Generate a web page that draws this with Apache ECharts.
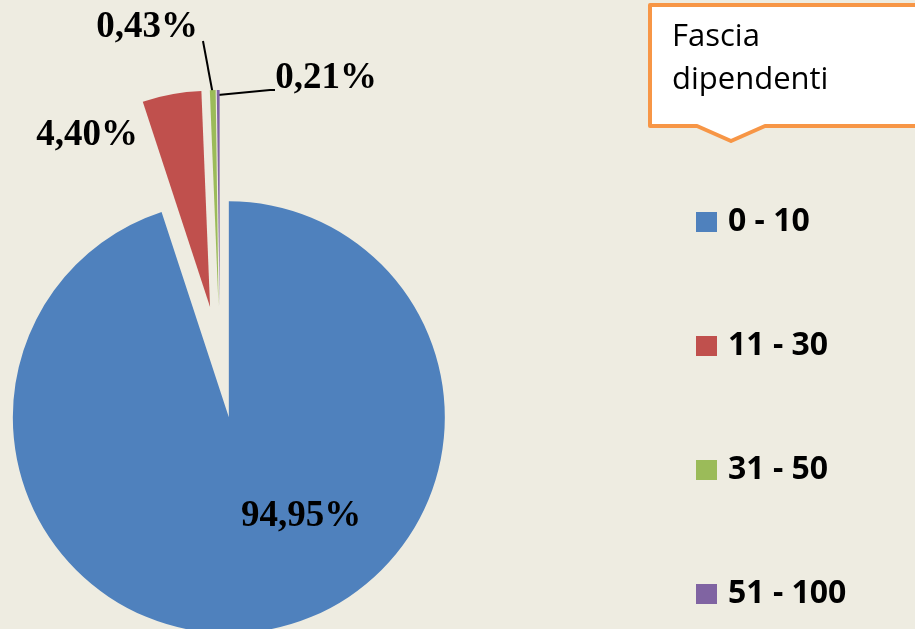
<!DOCTYPE html>
<html>
<head>
<meta charset="utf-8">
<style>
html,body{margin:0;padding:0;background:#EEECE1;}
#main{width:915px;height:629px;}
</style>
<script src="https://cdn.jsdelivr.net/npm/echarts@6/dist/echarts.min.js"></script>
</head>
<body>
<div id="main"></div>
<script>
// dati
var categories = ['0 - 10', '11 - 30', '31 - 50', '51 - 100'];
var values = [94.95, 4.40, 0.43, 0.21];
var colors = ['#4F81BD', '#C0504D', '#9BBB59', '#8064A2'];
var titleLines = ['Fascia', 'dipendenti'];

// posizione delle etichette (x, y) e linee guida
var labelPos = [[301, 516], [87, 135], [147, 27], [326, 78]];
var labelLines = [null, null,
	[[213, 95], [203, 41]],
	[[218, 95], [270, 90], [275, 90]]];

function fmt(v){
	return v.toFixed(2).replace('.', ',') + '%';
}

// fette esplose
function buildData(){
	var data = [];
	for(var i=0;i<values.length;i++){
		data.push({
			name: categories[i],
			value: values[i],
			selected: true,
			itemStyle: {color: colors[i]}
		});
	}
	return data;
}

// solo etichette (serie trasparente)
function buildLabelData(){
	var data = [];
	for(var i=0;i<values.length;i++){
		data.push({
			name: categories[i],
			value: values[i],
			labelLine: {show: labelLines[i] !== null}
		});
	}
	return data;
}

var myChart = echarts.init(document.getElementById('main'));

var option = {
	backgroundColor: '#EEECE1',
	animation: false,
	legend: {
		orient: 'vertical',
		left: 691,
		top: 201,
		itemWidth: 21,
		itemHeight: 20,
		itemGap: 92,
		icon: 'rect',
		selectedMode: false,
		data: categories,
		textStyle: {
			fontFamily: 'Open Sans',
			fontWeight: 'bold',
			fontSize: 32,
			lineHeight: 32,
			color: '#000',
			padding: [0, 0, 0, 6]
		}
	},
	graphic: [
		{
			type: 'polygon',
			shape: {points: [[650, 5], [925, 5], [925, 126], [765, 126], [731, 141], [697, 126], [650, 126]]},
			style: {fill: '#FFFFFF', stroke: '#F79646', lineWidth: 4, lineJoin: 'round'},
			z: 10
		},
		{
			type: 'text',
			left: 672, top: 22,
			style: {text: titleLines[0], font: '31px "Open Sans"', fill: '#000'},
			z: 11
		},
		{
			type: 'text',
			left: 672, top: 65,
			style: {text: titleLines[1], font: '31px "Open Sans"', fill: '#000'},
			z: 11
		}
	],
	series: [{
		name: 'Fascia dipendenti',
		type: 'pie',
		center: [220, 362],
		radius: [0, 216],
		startAngle: 90,
		clockwise: true,
		selectedMode: 'multiple',
		selectedOffset: 56,
		emphasis: {disabled: true},
		itemStyle: {borderWidth: 0},
		label: {show: false},
		labelLine: {show: false},
		data: buildData()
	}, {
		name: 'etichette',
		type: 'pie',
		center: [220, 362],
		radius: [0, 216],
		startAngle: 90,
		clockwise: true,
		silent: true,
		legendHoverLink: false,
		avoidLabelOverlap: false,
		emphasis: {disabled: true},
		itemStyle: {color: 'rgba(0,0,0,0)', borderWidth: 0},
		label: {
			position: 'outside',
			formatter: function(p){ return fmt(p.value); },
			fontFamily: 'Liberation Serif',
			fontWeight: 'bold',
			fontSize: 37,
			color: '#000'
		},
		labelLine: {lineStyle: {color: '#000', width: 2}},
		labelLayout: function(params){
			var i = params.dataIndex;
			var res = {x: labelPos[i][0], y: labelPos[i][1], align: 'center', verticalAlign: 'middle'};
			if(labelLines[i]) res.labelLinePoints = labelLines[i];
			return res;
		},
		data: buildLabelData()
	}]
};

myChart.setOption(option);
</script>
</body>
</html>
